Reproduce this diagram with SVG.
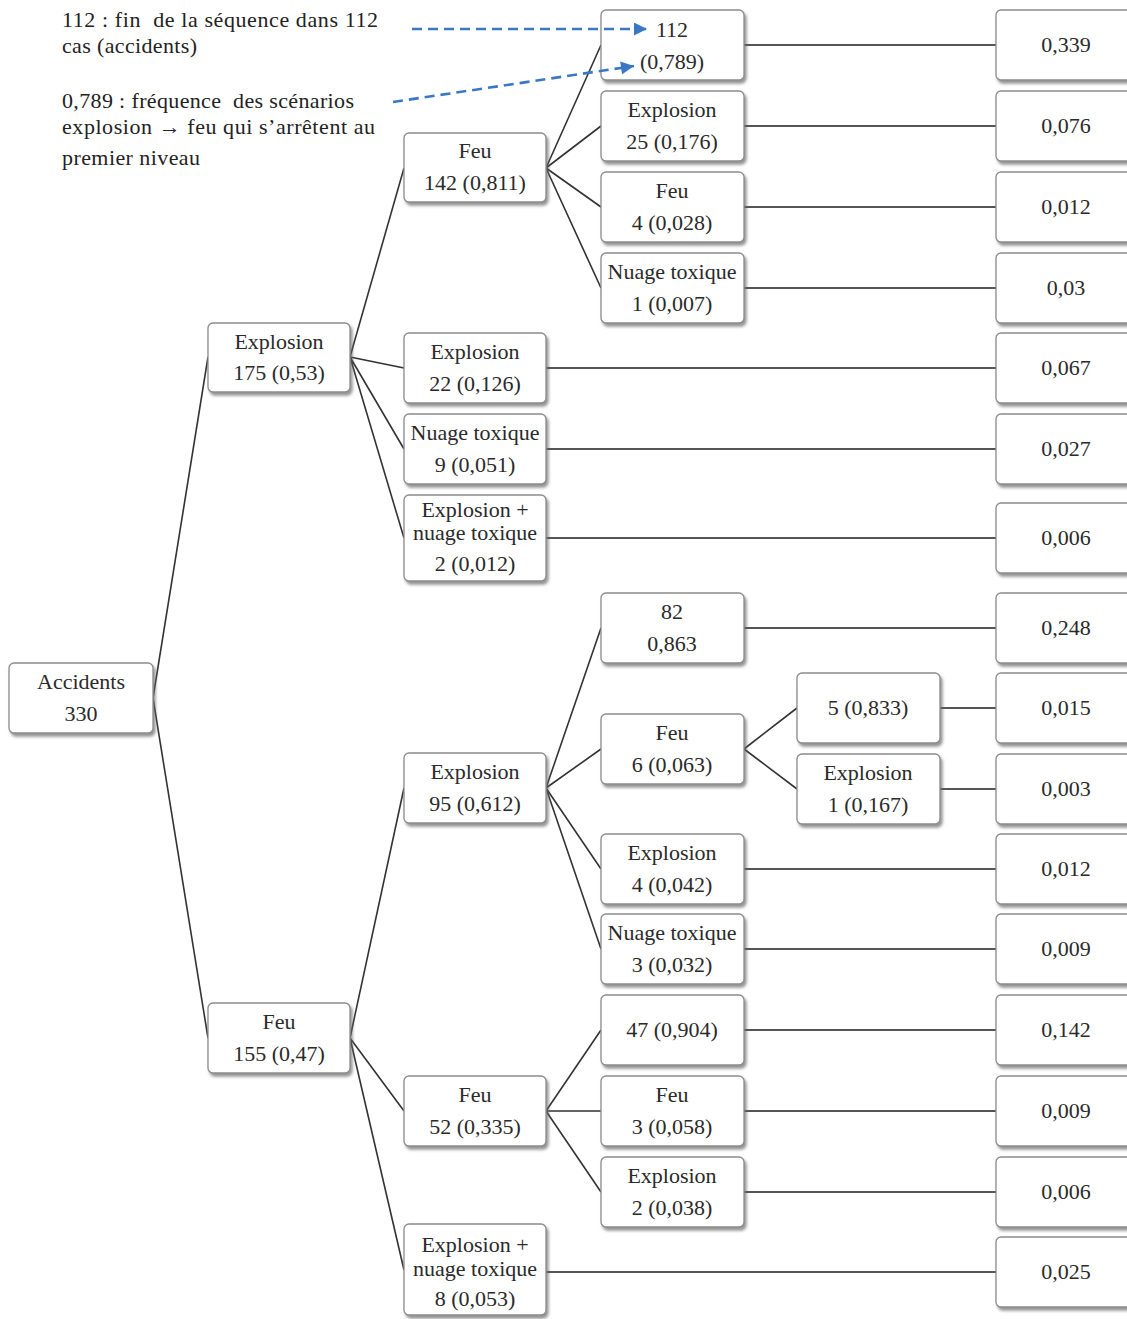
<svg xmlns="http://www.w3.org/2000/svg" width="1127" height="1319" viewBox="0 0 1127 1319">
<style>
.box{fill:#fff;stroke:#8c8c8c;stroke-width:1.3;filter:url(#sh)}
.t{font-family:"Liberation Serif","Times New Roman",serif;font-size:22px;fill:#2a2a2a;text-anchor:middle}
.a{font-family:"Liberation Serif","Times New Roman",serif;font-size:22px;fill:#222}
.c{stroke:#333;stroke-width:1.6;fill:none}
.h{stroke:#555;stroke-width:2;fill:none}
.d{stroke:#3b78c3;stroke-width:2.6;stroke-dasharray:10 6;fill:none}
</style>
<defs>
<filter id="sh" x="-10%" y="-10%" width="125%" height="135%">
<feDropShadow dx="2" dy="3" stdDeviation="1.5" flood-color="#666" flood-opacity="0.7"/>
</filter>
<marker id="ar" viewBox="0 0 10 10" refX="10" refY="5" markerWidth="5.5" markerHeight="5" orient="auto" markerUnits="strokeWidth">
<path d="M0,0 L10,5 L0,10 z" fill="#3b78c3"/>
</marker>
</defs>
<rect width="1127" height="1319" fill="#fff"/>

<g id="connectors">
<path class="c" d="M153,698 L208,357 M153,698 L208,1038"/>
<path class="c" d="M350,357 L404,168 M350,357 L404,368 M350,357 L404,449 M350,357 L404,538"/>
<path class="c" d="M546,168 L601,45 M546,168 L601,126 M546,168 L601,207 M546,168 L601,288"/>
<path class="c" d="M350,1038 L404,788 M350,1038 L404,1111 M350,1038 L404,1270"/>
<path class="c" d="M546,788 L601,628 M546,788 L601,749 M546,788 L601,869 M546,788 L601,949"/>
<path class="c" d="M744,749 L797,708 M744,749 L797,789"/>
<path class="c" d="M546,1111 L601,1030 M546,1111 L601,1111 M546,1111 L601,1192"/>
<path class="h" d="M744,45 H996 M744,126 H996 M744,207 H996 M744,288 H996 M546,368 H996 M546,449 H996 M546,538 H996 M744,628 H996 M940,708 H996 M940,789 H996 M744,869 H996 M744,949 H996 M744,1030 H996 M744,1111 H996 M744,1192 H996 M546,1272 H996"/>
</g>

<g id="n0"><rect class="box" x="9" y="663" width="144" height="70" rx="5"/><text class="t" x="81" y="689">Accidents</text><text class="t" x="81" y="721">330</text></g>
<g id="n1"><rect class="box" x="208" y="323" width="142" height="69" rx="5"/><text class="t" x="279" y="349">Explosion</text><text class="t" x="279" y="380">175 (0,53)</text></g>
<g id="n2"><rect class="box" x="208" y="1003" width="142" height="70" rx="5"/><text class="t" x="279" y="1029">Feu</text><text class="t" x="279" y="1061">155 (0,47)</text></g>
<g id="n3"><rect class="box" x="404" y="133" width="142" height="69" rx="5"/><text class="t" x="475" y="158">Feu</text><text class="t" x="475" y="190">142 (0,811)</text></g>
<g id="n4"><rect class="box" x="404" y="333" width="142" height="70" rx="5"/><text class="t" x="475" y="359">Explosion</text><text class="t" x="475" y="391">22 (0,126)</text></g>
<g id="n5"><rect class="box" x="404" y="414" width="142" height="70" rx="5"/><text class="t" x="475" y="440">Nuage toxique</text><text class="t" x="475" y="472">9 (0,051)</text></g>
<g id="n6"><rect class="box" x="404" y="495" width="142" height="86" rx="5"/><text class="t" x="475" y="517">Explosion +</text><text class="t" x="475" y="540">nuage toxique</text><text class="t" x="475" y="571">2 (0,012)</text></g>
<g id="n7"><rect class="box" x="404" y="753" width="142" height="70" rx="5"/><text class="t" x="475" y="779">Explosion</text><text class="t" x="475" y="811">95 (0,612)</text></g>
<g id="n8"><rect class="box" x="404" y="1076" width="142" height="70" rx="5"/><text class="t" x="475" y="1102">Feu</text><text class="t" x="475" y="1134">52 (0,335)</text></g>
<g id="n9"><rect class="box" x="404" y="1224" width="142" height="91" rx="5"/><text class="t" x="475" y="1252">Explosion +</text><text class="t" x="475" y="1276">nuage toxique</text><text class="t" x="475" y="1306">8 (0,053)</text></g>

<g id="n10"><rect class="box" x="601" y="10" width="143" height="70" rx="5"/><text class="t" x="672" y="37">112</text><text class="t" x="672" y="69">(0,789)</text></g>
<g id="n11"><rect class="box" x="601" y="91" width="143" height="70" rx="5"/><text class="t" x="672" y="117">Explosion</text><text class="t" x="672" y="149">25 (0,176)</text></g>
<g id="n12"><rect class="box" x="601" y="172" width="143" height="70" rx="5"/><text class="t" x="672" y="198">Feu</text><text class="t" x="672" y="230">4 (0,028)</text></g>
<g id="n13"><rect class="box" x="601" y="253" width="143" height="70" rx="5"/><text class="t" x="672" y="279">Nuage toxique</text><text class="t" x="672" y="311">1 (0,007)</text></g>
<g id="n14"><rect class="box" x="601" y="593" width="143" height="70" rx="5"/><text class="t" x="672" y="619">82</text><text class="t" x="672" y="651">0,863</text></g>
<g id="n15"><rect class="box" x="601" y="714" width="143" height="70" rx="5"/><text class="t" x="672" y="740">Feu</text><text class="t" x="672" y="772">6 (0,063)</text></g>
<g id="n16"><rect class="box" x="601" y="834" width="143" height="70" rx="5"/><text class="t" x="672" y="860">Explosion</text><text class="t" x="672" y="892">4 (0,042)</text></g>
<g id="n17"><rect class="box" x="601" y="914" width="143" height="70" rx="5"/><text class="t" x="672" y="940">Nuage toxique</text><text class="t" x="672" y="972">3 (0,032)</text></g>
<g id="n18"><rect class="box" x="601" y="995" width="143" height="70" rx="5"/><text class="t" x="672" y="1037">47 (0,904)</text></g>
<g id="n19"><rect class="box" x="601" y="1076" width="143" height="70" rx="5"/><text class="t" x="672" y="1102">Feu</text><text class="t" x="672" y="1134">3 (0,058)</text></g>
<g id="n20"><rect class="box" x="601" y="1157" width="143" height="70" rx="5"/><text class="t" x="672" y="1183">Explosion</text><text class="t" x="672" y="1215">2 (0,038)</text></g>
<g id="n21"><rect class="box" x="797" y="673" width="143" height="70" rx="5"/><text class="t" x="868" y="715">5 (0,833)</text></g>
<g id="n22"><rect class="box" x="797" y="754" width="143" height="70" rx="5"/><text class="t" x="868" y="780">Explosion</text><text class="t" x="868" y="812">1 (0,167)</text></g>

<g id="r0"><rect class="box" x="996" y="10" width="143" height="70" rx="5"/><text class="t" x="1066" y="52">0,339</text></g>
<g id="r1"><rect class="box" x="996" y="91" width="143" height="70" rx="5"/><text class="t" x="1066" y="133">0,076</text></g>
<g id="r2"><rect class="box" x="996" y="172" width="143" height="70" rx="5"/><text class="t" x="1066" y="214">0,012</text></g>
<g id="r3"><rect class="box" x="996" y="253" width="143" height="70" rx="5"/><text class="t" x="1066" y="295">0,03</text></g>
<g id="r4"><rect class="box" x="996" y="333" width="143" height="70" rx="5"/><text class="t" x="1066" y="375">0,067</text></g>
<g id="r5"><rect class="box" x="996" y="414" width="143" height="70" rx="5"/><text class="t" x="1066" y="456">0,027</text></g>
<g id="r6"><rect class="box" x="996" y="503" width="143" height="70" rx="5"/><text class="t" x="1066" y="545">0,006</text></g>
<g id="r7"><rect class="box" x="996" y="593" width="143" height="70" rx="5"/><text class="t" x="1066" y="635">0,248</text></g>
<g id="r8"><rect class="box" x="996" y="673" width="143" height="70" rx="5"/><text class="t" x="1066" y="715">0,015</text></g>
<g id="r9"><rect class="box" x="996" y="754" width="143" height="70" rx="5"/><text class="t" x="1066" y="796">0,003</text></g>
<g id="r10"><rect class="box" x="996" y="834" width="143" height="70" rx="5"/><text class="t" x="1066" y="876">0,012</text></g>
<g id="r11"><rect class="box" x="996" y="914" width="143" height="70" rx="5"/><text class="t" x="1066" y="956">0,009</text></g>
<g id="r12"><rect class="box" x="996" y="995" width="143" height="70" rx="5"/><text class="t" x="1066" y="1037">0,142</text></g>
<g id="r13"><rect class="box" x="996" y="1076" width="143" height="70" rx="5"/><text class="t" x="1066" y="1118">0,009</text></g>
<g id="r14"><rect class="box" x="996" y="1157" width="143" height="70" rx="5"/><text class="t" x="1066" y="1199">0,006</text></g>
<g id="r15"><rect class="box" x="996" y="1237" width="143" height="70" rx="5"/><text class="t" x="1066" y="1279">0,025</text></g>

<g id="annotations">
<text class="a" x="62" y="27" textLength="316" lengthAdjust="spacing" xml:space="preserve">112 : fin  de la séquence dans 112</text>
<text class="a" x="62" y="53" textLength="135" lengthAdjust="spacing">cas (accidents)</text>
<text class="a" x="62" y="108" textLength="292" lengthAdjust="spacing" xml:space="preserve">0,789 : fréquence  des scénarios</text>
<text class="a" x="62" y="134" textLength="313" lengthAdjust="spacing">explosion → feu qui s’arrêtent au</text>
<text class="a" x="62" y="165" textLength="138" lengthAdjust="spacing">premier niveau</text>
<path class="d" d="M412,29 L647,29" marker-end="url(#ar)"/>
<path class="d" d="M393,102 L634,66" marker-end="url(#ar)"/>
</g>
</svg>
